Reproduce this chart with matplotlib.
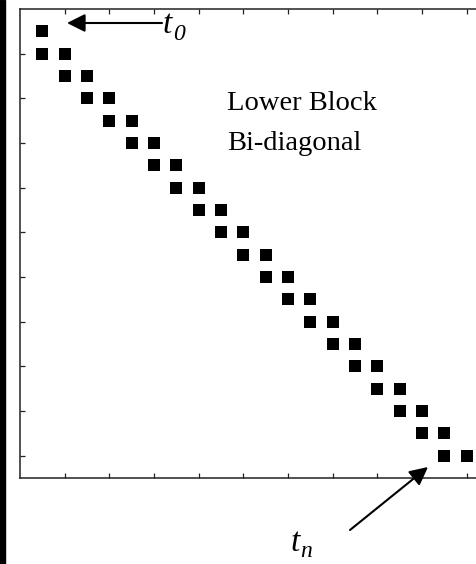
import numpy as np
import matplotlib
matplotlib.use('Agg')
import matplotlib.pyplot as plt
from matplotlib.patches import Rectangle

# nonzero blocks of the lower block bi-diagonal matrix (row, column)
rows = [0, 1, 1, 2, 2, 3, 3, 4, 4, 5, 5, 6, 6, 7, 7, 8, 8, 9, 9, 10,
        10, 11, 11, 12, 12, 13, 13, 14, 14, 15, 15, 16, 16, 17, 17, 18, 18, 19, 19]
cols = [0, 0, 1, 1, 2, 2, 3, 3, 4, 4, 5, 5, 6, 6, 7, 7, 8, 8, 9, 9,
        10, 10, 11, 11, 12, 12, 13, 13, 14, 14, 15, 15, 16, 16, 17, 17, 18, 18, 19]
xticks = [1, 3, 5, 7, 9, 11, 13, 15, 17, 19]
yticks = [1, 3, 5, 7, 9, 11, 13, 15, 17, 19]

W, H = 476, 564
fig = plt.figure(figsize=(W / 100, H / 100), dpi=100)

# black strip on the left edge
fig.patches.append(Rectangle((0, 0), 5 / W, 1, transform=fig.transFigure,
                             color='black', zorder=10))

# axes run off the right edge like in the cropped original
ax = fig.add_axes([20 / W, 86 / H, 469 / W, 469 / H])
ax.plot(cols, rows, 's', color='black', markersize=8.8, markeredgewidth=0)
ax.set_xlim(-1, 20)
ax.set_ylim(20, -1)
ax.set_xticks(xticks)
ax.set_yticks(yticks)
ax.set_xticklabels([])
ax.set_yticklabels([])
ax.tick_params(direction='in', length=3.5, width=0.9, color='#222222',
               top=True, bottom=True, left=True, right=False)
for s in ['left', 'top', 'bottom']:
    ax.spines[s].set_linewidth(1.1)
    ax.spines[s].set_color('#222222')
ax.spines['right'].set_visible(False)

serif = 'Liberation Serif'
fig.text(227 / W, (H - 110) / H, 'Lower Block', fontsize=20.5, family=serif,
         va='baseline', ha='left')
fig.text(227 / W, (H - 150) / H, 'Bi-diagonal', fontsize=20.5, family=serif,
         va='baseline', ha='left')

arrow = dict(arrowstyle='-|>,head_length=1.0,head_width=0.5', color='black',
             lw=1.5, mutation_scale=11, shrinkA=0, shrinkB=0)

# t0 arrow
ax.annotate('', xy=(67, H - 23), xytext=(162, H - 23),
            xycoords='figure pixels', textcoords='figure pixels',
            arrowprops=arrow, annotation_clip=False)
fig.text(163 / W, (H - 33) / H, 't', fontsize=24, family=serif,
         style='italic', va='baseline', ha='left')
fig.text(173 / W, (H - 40) / H, '0', fontsize=17, family=serif,
         style='italic', va='baseline', ha='left')

# tn arrow
ax.annotate('', xy=(428, H - 467), xytext=(350, H - 530),
            xycoords='figure pixels', textcoords='figure pixels',
            arrowprops=arrow, annotation_clip=False)
fig.text(291 / W, (H - 551) / H, 't', fontsize=24, family=serif,
         style='italic', va='baseline', ha='left')
fig.text(300 / W, (H - 557) / H, 'n', fontsize=17, family=serif,
         style='italic', va='baseline', ha='left')

fig.savefig('out.png', dpi=100)
